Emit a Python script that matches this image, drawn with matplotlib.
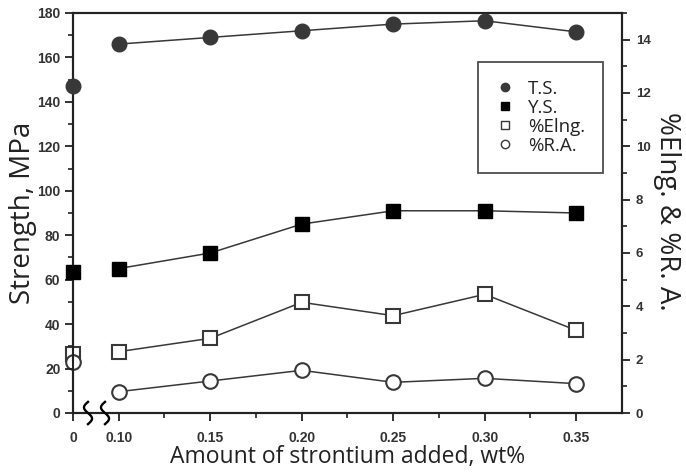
import numpy as np
import matplotlib
matplotlib.use('Agg')
import matplotlib.pyplot as plt
from matplotlib.ticker import MultipleLocator, FixedLocator
from matplotlib.lines import Line2D

# x positions: the "0" sample is drawn at the left edge (broken axis)
x_labels = ['0', '0.10', '0.15', '0.20', '0.25', '0.30', '0.35']
x_pos = [0.075, 0.10, 0.15, 0.20, 0.25, 0.30, 0.35]

ts = [147, 166, 169, 172, 175, 176.5, 171.5]       # MPa
ys = [63.5, 65, 72, 85, 91, 91, 90]                # MPa
elng = [2.2, 2.3, 2.8, 4.15, 3.65, 4.45, 3.1]     # %
ra = [1.9, 0.8, 1.2, 1.6, 1.15, 1.3, 1.1]          # %

dark = '#383838'
tick_font = ['Liberation Sans', 'DejaVu Sans']
lab_font = ['Open Sans', 'DejaVu Sans']

fig = plt.figure(figsize=(6.86, 4.72), dpi=100)
ax = fig.add_axes([0.1064, 0.125, 0.8003, 0.8475])
ax2 = ax.twinx()

# left axis series
ax.plot(x_pos[1:], ts[1:], '-', color=dark, lw=1.1, zorder=2)
ax.plot(x_pos, ts, 'o', mfc=dark, mec=dark, ms=10.5, zorder=3, clip_on=False)
ax.plot(x_pos[1:], ys[1:], '-', color=dark, lw=1.1, zorder=2)
ax.plot(x_pos, ys, 's', mfc='black', mec='black', ms=10.5, zorder=3, clip_on=False)

# right axis series
ax2.plot(x_pos[1:], elng[1:], '-', color=dark, lw=1.1, zorder=2)
ax2.plot(x_pos, elng, 's', mfc='white', mec=dark, mew=1.5, ms=9.5, zorder=3, clip_on=False)
ax2.plot(x_pos[1:], ra[1:], '-', color=dark, lw=1.1, zorder=2)
ax2.plot(x_pos, ra, 'o', mfc='white', mec=dark, mew=1.5, ms=10.5, zorder=3, clip_on=False)

ax.set_xlim(0.075, 0.375)
ax.set_ylim(0, 180)
ax2.set_ylim(0, 15)

ax.xaxis.set_major_locator(FixedLocator(x_pos))
ax.set_xticklabels(x_labels)
ax.xaxis.set_minor_locator(FixedLocator([0.125, 0.175, 0.225, 0.275, 0.325]))
ax.yaxis.set_major_locator(MultipleLocator(20))
ax.yaxis.set_minor_locator(MultipleLocator(10))
ax2.yaxis.set_major_locator(MultipleLocator(2))
ax2.yaxis.set_minor_locator(MultipleLocator(1))

for a in (ax, ax2):
    for s in a.spines.values():
        s.set_linewidth(1.5)
        s.set_color('#222222')
    a.tick_params(which='major', direction='out', length=6, width=1.3, color='#222222',
                  labelsize=10, labelcolor='#333333')
    a.tick_params(which='minor', direction='out', length=3.5, width=1.2, color='#222222')
    for lab in a.get_xticklabels() + a.get_yticklabels():
        lab.set_family(tick_font)
        lab.set_fontweight('bold')
ax.tick_params(axis='x', pad=7)
ax.tick_params(axis='y', pad=3)
ax2.tick_params(axis='y', pad=4, labelsize=9.5)

# axis break marks
t = np.linspace(-1, 1, 40)
for xb in (0.0832, 0.0925):
    xs = xb + 0.0022 * np.sin(t * np.pi)
    ax.plot(xs, -5 * t, color='black', lw=1.7, clip_on=False, zorder=5)

ax.set_ylabel('Strength, MPa', fontsize=20, family=lab_font, color='#222222', labelpad=0)
fig.text(0.972, 0.553, '%Elng. & %R. A.', fontsize=20, family=lab_font, color='#222222',
         rotation=-90, ha='center', va='center')
ax.set_xlabel('Amount of strontium added, wt%', fontsize=16.5, family=lab_font,
              color='#222222', labelpad=0)

# legend
handles = [
    Line2D([], [], ls='none', marker='o', mfc=dark, mec=dark, ms=6),
    Line2D([], [], ls='none', marker='s', mfc='black', mec='black', ms=6),
    Line2D([], [], ls='none', marker='s', mfc='white', mec=dark, ms=6),
    Line2D([], [], ls='none', marker='o', mfc='white', mec=dark, ms=6),
]
leg = ax.legend(handles, ['T.S.', 'Y.S.', '%Elng.', '%R.A.'], loc='upper left',
                bbox_to_anchor=(0.738, 0.878), frameon=True, fancybox=False,
                prop={'family': lab_font, 'size': 13.5}, handlelength=1.0,
                handletextpad=0.7, labelspacing=0.05, borderpad=0.95,
                borderaxespad=0, handleheight=0.9)
leg.get_frame().set_edgecolor('#222222')
leg.get_frame().set_linewidth(1.3)
for txt in leg.get_texts():
    txt.set_color('#222222')
ax.set_zorder(ax2.get_zorder() + 1)
ax.patch.set_visible(False)

fig.savefig('out.png', dpi=100)
